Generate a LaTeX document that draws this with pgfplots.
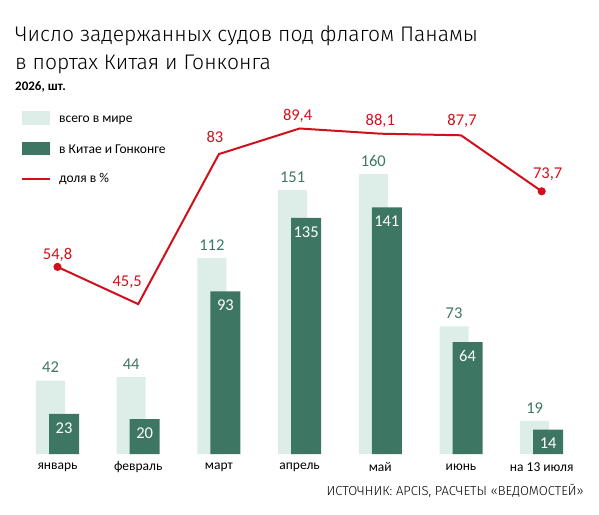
\documentclass[border=0pt]{standalone}
\usepackage{pgfplots}
\usepackage{pgfplotstable}
\pgfplotsset{compat=1.18}
\usepackage{fontspec}
\setmainfont{Carlito}
\newfontfamily\lightfont{Fira Sans Light}
\definecolor{lightbar}{HTML}{DCEEE7}
\definecolor{darkbar}{HTML}{3E7664}
\definecolor{redline}{HTML}{D0101B}

\pgfplotstableread{
x total china
0 42 23
1 44 20
2 112 93
3 151 135
4 160 141
5 73 64
6 19 14
}\bartable

\pgfplotstableread{
x y
0 54.8
1 45.5
2 83
3 89.4
4 88.1
5 87.7
6 73.7
}\sharetable

\pgfplotsset{
  redlab/.style 2 args={draw=none, mark=none, nodes near coords, point meta=explicit symbolic,
    nodes near coords style={anchor=center, xshift=#1, yshift=#2, text=redline, font=\fontsize{16.5}{18}\selectfont}},
}

\begin{document}
\begin{tikzpicture}
\path (0pt,0pt) rectangle (599pt,514pt);

% title
\node[anchor=base west, inner sep=0, font=\lightfont\fontsize{21.1}{24}\selectfont] at (15pt,473pt) {Число задержанных судов под флагом Панамы};
\node[anchor=base west, inner sep=0, font=\lightfont\fontsize{21.1}{24}\selectfont] at (15pt,445pt) {в портах Китая и Гонконга};
\node[anchor=west, inner sep=0, font=\bfseries\fontsize{13}{15}\selectfont] at (15pt,427pt) {2026, шт.};

% legend
\fill[lightbar] (22pt,389pt) rectangle (50pt,403pt);
\fill[darkbar] (22pt,359pt) rectangle (50pt,372pt);
\draw[redline, line width=2pt] (22pt,335pt) -- (50pt,335pt);
\node[anchor=west, inner sep=0, font=\fontsize{13.5}{16}\selectfont] at (59pt,394pt) {всего в мире};
\node[anchor=west, inner sep=0, font=\fontsize{13.5}{16}\selectfont] at (59pt,365pt) {в Китае и Гонконге};
\node[anchor=west, inner sep=0, font=\fontsize{13.5}{16}\selectfont] at (59pt,335pt) {доля в \%};

% source
\node[anchor=east, inner sep=0, font=\lightfont\fontsize{13}{15}\selectfont] at (584pt,23pt) {ИСТОЧНИК: APCIS, РАСЧЕТЫ «ВЕДОМОСТЕЙ»};

\begin{axis}[
  at={(0pt,60pt)}, anchor=south west,
  scale only axis, width=599pt, height=454pt,
  xmin=-0.7125, xmax=6.710, ymin=0, ymax=259.43,
  clip=false,
  axis line style={draw=none},
  ytick=\empty,
  xtick={0,...,6},
  xticklabels={январь,февраль,март,апрель,май,июнь,на 13 июля},
  major tick length=0pt,
  xticklabel style={anchor=center, yshift=-13pt, font=\fontsize{13.5}{16}\selectfont},
]
\addplot[ybar, bar width=29pt, bar shift=-7pt, fill=lightbar, draw=none,
  nodes near coords, point meta=explicit symbolic,
  nodes near coords style={anchor=center, xshift=-7pt, yshift=13pt, text=darkbar, font=\fontsize{16.5}{18}\selectfont}]
  table[x=x, y=total, meta=total] {\bartable};
\addplot[ybar, bar width=30pt, bar shift=6.5pt, fill=darkbar, draw=none,
  nodes near coords, point meta=explicit symbolic,
  nodes near coords style={anchor=center, xshift=6.5pt, yshift=-14pt, text=white, font=\fontsize{16.5}{18}\selectfont}]
  table[x=x, y=china, meta=china] {\bartable};
\end{axis}

\begin{axis}[
  at={(0pt,60pt)}, anchor=south west,
  scale only axis, width=599pt, height=454pt,
  xmin=-0.7125, xmax=6.710, ymin=8, ymax=121.5,
  clip=false, hide axis,
]
\addplot[redline, line width=2pt, mark=*, mark indices={1,7}, mark size=3pt,
  mark options={fill=redline, draw=redline}]
  table[x=x, y=y] {\sharetable};
\addplot[redlab={0pt}{12pt}] coordinates {(0,54.8) [{54,8}]};
\addplot[redlab={-11pt}{22pt}] coordinates {(1,45.5) [{45,5}]};
\addplot[redlab={-4pt}{17pt}] coordinates {(2,83) [83]};
\addplot[redlab={-2pt}{13pt}] coordinates {(3,89.4) [{89,4}]};
\addplot[redlab={0pt}{13pt}] coordinates {(4,88.1) [{88,1}]};
\addplot[redlab={1pt}{14pt}] coordinates {(5,87.7) [{87,7}]};
\addplot[redlab={6pt}{17pt}] coordinates {(6,73.7) [{73,7}]};
\end{axis}
\end{tikzpicture}
\end{document}
